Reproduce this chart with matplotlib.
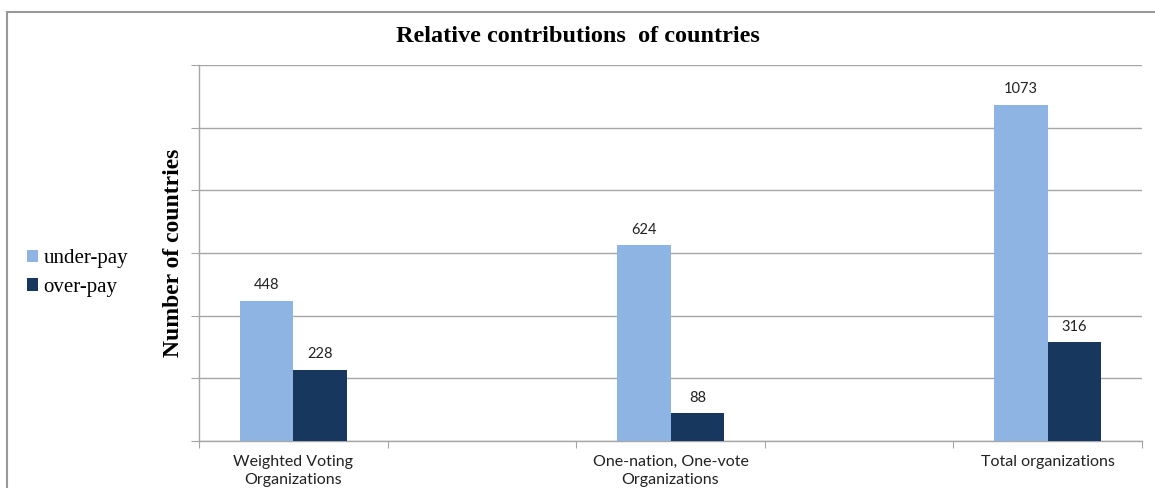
import numpy as np
import matplotlib
matplotlib.use('Agg')
import matplotlib.pyplot as plt
from matplotlib.patches import Rectangle

# Counts per organization type
categories = ['Weighted Voting\nOrganizations', 'One-nation, One-vote\nOrganizations', 'Total organizations']
under_pay = [448, 624, 1073]
over_pay = [228, 88, 316]

light_blue = '#8db4e2'
navy = '#17375e'
grid_grey = '#a6a6a6'

fig = plt.figure(figsize=(11.55, 4.88), dpi=100)
ax = fig.add_axes([199 / 1155, 1 - 441 / 488, 943 / 1155, 376 / 488])

# Groups sit in every other slot of a five-slot axis
x = np.arange(len(categories)) * 2
width = 0.285

bars_under = ax.bar(x - width / 2, under_pay, width, color=light_blue, label='under-pay', zorder=3)
bars_over = ax.bar(x + width / 2, over_pay, width, color=navy, label='over-pay', zorder=3)

for bars in (bars_under, bars_over):
    for b in bars:
        ax.annotate(f'{b.get_height():.0f}', (b.get_x() + b.get_width() / 2, b.get_height()),
                    xytext=(0, 6), textcoords='offset points', ha='center', va='bottom',
                    fontsize=10.5, family='Lato', color='#222222')

ax.set_xlim(-0.5, 4.5)
ax.set_ylim(0, 1200)
ax.set_yticks(np.arange(0, 1201, 200))
ax.set_yticklabels([])
ax.yaxis.grid(True, color=grid_grey, linewidth=1)
ax.set_axisbelow(True)

# Tick marks on slot boundaries, labels at group centres
ax.set_xticks(np.arange(-0.5, 4.6, 1))
ax.set_xticklabels([])
ax.set_xticks(x, minor=True)
ax.set_xticklabels(categories, minor=True, fontsize=11.5, family='Lato', color='#222222',
                   linespacing=1.35)
ax.tick_params(axis='x', which='minor', length=0, pad=10)
ax.tick_params(axis='x', which='major', length=5, color=grid_grey, direction='out')
ax.tick_params(axis='y', length=6, color=grid_grey, direction='out')

for side in ('top', 'right'):
    ax.spines[side].set_visible(False)
for side in ('left', 'bottom'):
    ax.spines[side].set_color(grid_grey)
    ax.spines[side].set_linewidth(1)

ax.set_ylabel('Number of countries', family='Liberation Serif', fontweight='bold',
              fontsize=17, labelpad=1)
fig.text(0.5, 1 - 37 / 488, 'Relative contributions  of countries', ha='center', va='center',
         family='Liberation Serif', fontweight='bold', fontsize=17.5)

fig.legend(handles=[bars_under, bars_over], loc='center left',
           bbox_to_anchor=(27 / 1155, 1 - 273 / 488), frameon=False,
           prop={'family': 'Liberation Serif', 'size': 15},
           handlelength=0.55, handleheight=0.55, handletextpad=0.25,
           labelspacing=0.45, borderpad=0, borderaxespad=0)

# Outer frame around the chart area
fig.patches.append(Rectangle((7 / 1155, -0.2), 1.2, 1.2 - 12 / 488, transform=fig.transFigure,
                             fill=False, edgecolor='#999999', linewidth=1.5))

fig.savefig('out.png', dpi=100)
